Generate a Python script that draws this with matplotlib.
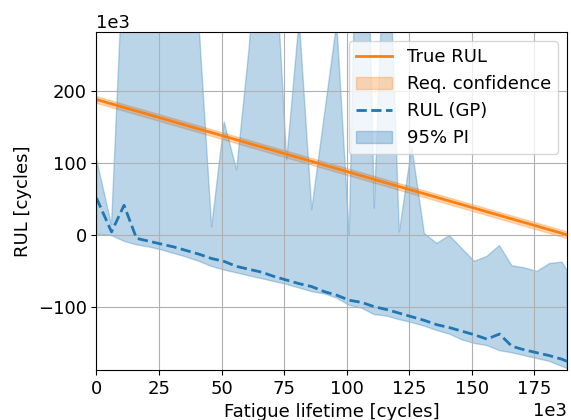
import numpy as np
import matplotlib
matplotlib.use("Agg")
import matplotlib.pyplot as plt

# Total fatigue life (cycles)
total_life = 188e3

# Inspection points (thousands of cycles)
cycles_k = [0, 6, 11, 16, 21, 26, 31, 36, 41, 46, 51, 56, 61, 66, 71, 76, 81, 86, 91,
            96, 101, 106, 111, 116, 121, 126, 131, 136, 141, 146, 151, 156, 161, 166,
            171, 176, 181, 186, 188]

# GP predicted RUL (thousands of cycles)
rul_mean_k = [51, 4, 41, -5, -9, -13, -17, -22, -27, -33, -37, -44, -48, -52, -58, -63,
              -68, -72, -79, -84, -91, -94, -100, -104, -109, -114, -119, -125, -129,
              -134, -139, -145, -138, -155, -160, -164, -168, -173, -176]

# 95% prediction interval bounds (thousands of cycles)
pi_lower_k = [1, -1, -9, -14, -17, -21, -26, -31, -37, -44, -49, -53, -57, -61, -65, -69,
              -74, -79, -82, -88, -98, -102, -111, -113, -118, -122, -127, -133, -138,
              -146, -151, -154, -161, -164, -168, -172, -176, -183, -186]
pi_upper_k = [105, 14, 407, 600, 650, 700, 600, 550, 290, 11, 157, 90, 260, 500, 420, 104,
              300, 35, 165, 295, 0, 800, 37, 506, 4, 122, 2, -12, -1, -19, -37, -30, -15,
              -43, -46, -51, -40, -38, -49]

# Required confidence half-width as fraction of total life
req_conf_frac = 0.025

t = np.array(cycles_k) * 1e3
mean = np.array(rul_mean_k) * 1e3
lo = np.array(pi_lower_k) * 1e3
hi = np.array(pi_upper_k) * 1e3

t_true = np.array([0.0, total_life])
rul_true = total_life - t_true
half = req_conf_frac * total_life

plt.rcParams['font.family'] = ['DejaVu Sans']
plt.rcParams['font.size'] = 13

fig = plt.figure(figsize=(5.71, 4.2), dpi=100)
ax = fig.add_axes([0.169, 0.119, 0.824, 0.805])

ax.plot(t_true, rul_true, color='tab:orange', lw=2, label='True RUL')
ax.fill_between(t_true, rul_true - half, rul_true + half, color='tab:orange', alpha=0.3,
                label='Req. confidence')
ax.plot(t, mean, color='tab:blue', ls='--', lw=2, label='RUL (GP)')
ax.fill_between(t, lo, hi, color='tab:blue', alpha=0.3, label='95% PI')

ax.set_xlim(0, total_life)
ax.set_ylim(-total_life, 1.5 * total_life)
ax.ticklabel_format(style='sci', axis='both', scilimits=(3, 3))
ax.grid(True)
ax.set_xlabel('Fatigue lifetime [cycles]')
ax.set_ylabel('RUL [cycles]')
ax.legend(loc='upper right')

fig.savefig('out.png', dpi=100)
